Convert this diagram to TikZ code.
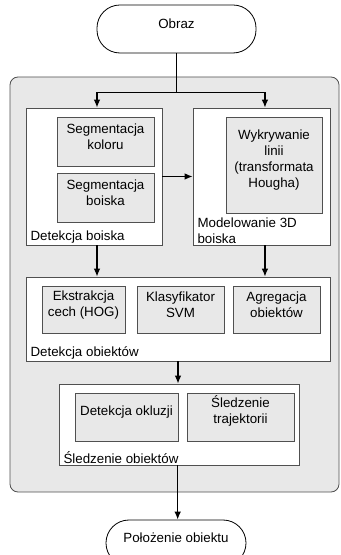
\documentclass[tikz,border=0pt]{standalone}
\usepackage{fontspec}
\setmainfont{Liberation Sans}
\usepackage{tikz}
\usetikzlibrary{positioning, fit, arrows.meta}
\definecolor{panel}{RGB}{232,232,232}
\definecolor{edge}{RGB}{80,80,80}

\begin{document}
\begin{tikzpicture}[x=0.75pt, y=-0.75pt,
    every node/.style={font=\fontsize{10}{12}\selectfont},
    terminal/.style={draw=black, line width=0.6pt, fill=white, inner sep=0pt, rounded corners=17.2pt},
    stage/.style={draw=edge, line width=0.6pt, fill=white, inner sep=0pt},
    task/.style={draw=edge, line width=0.6pt, fill=panel, inner sep=0pt, align=center},
    caption/.style={anchor=south west, inner xsep=3.5pt, inner ysep=1.5pt, align=left},
    flow/.style={-{Latex[length=6pt,width=5pt]}, line width=1pt}]
  \clip (0,0) rectangle (340,555);
  \node[terminal, fit={(97,5) (256,53)}] (obraz) {Obraz};
  \node[stage, fill=panel, rounded corners=6pt, fit={(10,77) (339,492)}] (system) {};

  \node[stage, fit={(26,108) (162,245)}] (field_det) {};
  \node[caption] at (field_det.south west) {Detekcja boiska};
  \node[task, fit={(57,117) (154,166)}] (seg_color) {Segmentacja\\koloru};
  \node[task, fit={(57,173) (154,222)}] (seg_field) {Segmentacja\\boiska};

  \node[stage, fit={(193,108) (330,245)}] (model_3d) {};
  \node[caption] at (model_3d.south west) {Modelowanie 3D\\boiska};
  \node[task, fit={(226,117) (322,213)}] (hough) {Wykrywanie\\linii\\(transformata\\Hougha)};

  \node[stage, fit={(26,277) (330,361)}] (obj_det) {};
  \node[caption] at (obj_det.south west) {Detekcja obiektów};
  \node[task, fit={(42,286) (125,333)}] (hog) {Ekstrakcja\\cech (HOG)};
  \node[task, fit={(137,286) (224,333)}] (svm) {Klasyfikator\\SVM};
  \node[task, fit={(233,286) (320,333)}] (aggr) {Agregacja\\obiektów};

  \node[stage, fit={(59,384) (299,465)}] (tracking) {};
  \node[caption] at (tracking.south west) {Śledzenie obiektów};
  \node[task, fit={(75,393) (178,441)}] (occl) {Detekcja okluzji};
  \node[task, fit={(187,393) (294,441)}] (traj) {Śledzenie\\trajektorii};

  \node[terminal, fit={(106,520) (246,566)}] (position) {Położenie obiektu};

  \path (obraz.south) ++(0,39) coordinate (split);
  \draw[line width=1pt] (obraz.south) -- (split);
  \draw[flow] (split) -| ([xshift=2.25pt]field_det.north);
  \draw[flow] (split) -| ([xshift=2.6pt]model_3d.north);
  \draw[flow] (field_det.east) -- (model_3d.west);
  \draw[flow] ([xshift=2.25pt]field_det.south) -- ([xshift=2.25pt]field_det.south |- obj_det.north);
  \draw[flow] ([xshift=2.6pt]model_3d.south) -- ([xshift=2.6pt]model_3d.south |- obj_det.north);
  \draw[flow] (obj_det.south) -- (obj_det.south |- tracking.north);
  \draw[flow] ([xshift=-1pt]tracking.south) -- ([xshift=-1pt]tracking.south |- position.north);
\end{tikzpicture}
\end{document}
